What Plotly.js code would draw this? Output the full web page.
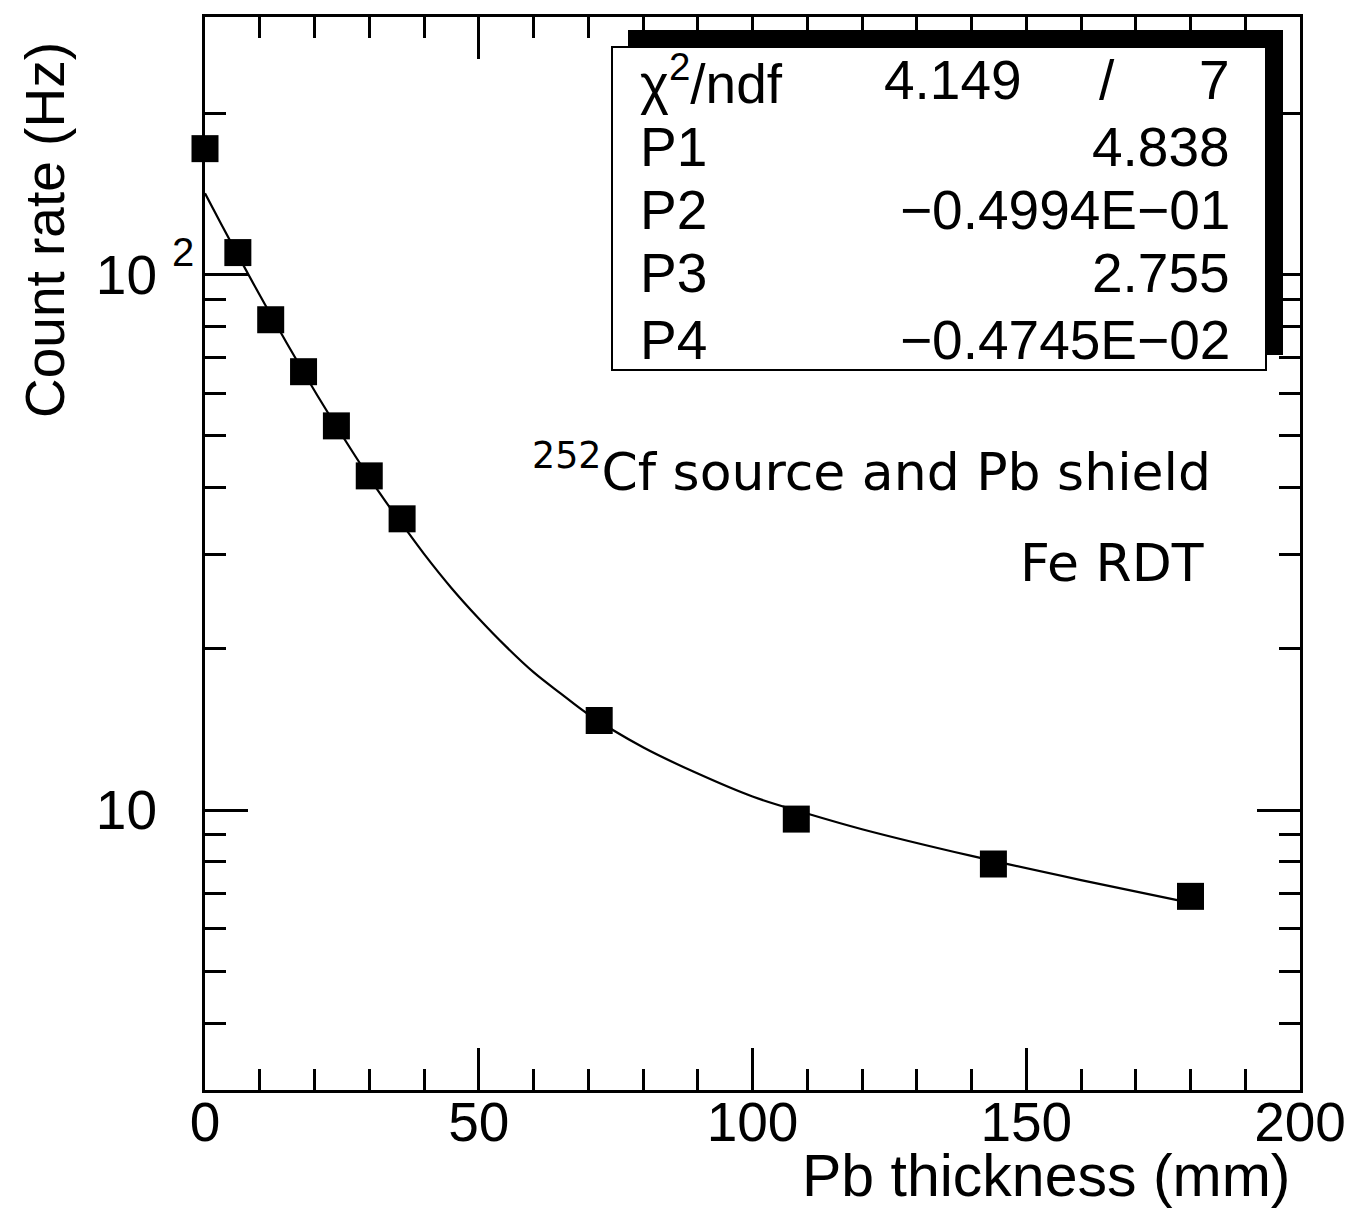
<!DOCTYPE html>
<html>
<head>
<meta charset="utf-8">
<script src="https://cdn.plot.ly/plotly-3.0.1.min.js"></script>
<style>html,body{margin:0;padding:0;background:#fff;}#chart{width:1356px;height:1214px;}</style>
</head>
<body>
<div id="chart"></div>
<script>
// Measured points (Pb thickness in mm, count rate in Hz)
const thickness = [0, 6, 12, 18, 24, 30, 36, 72, 108, 144, 180];
const countRate = [172, 110, 82.4, 65.9, 52.2, 42.1, 35.0, 14.7, 9.62, 7.93, 6.90];

// Fitted curve
const fitX = [0, 3, 6, 9, 12, 15, 18, 21, 24, 27, 30, 33, 36, 40, 45, 50, 55, 60, 65, 70, 80, 90, 100, 110, 120, 140, 160, 180];
const fitY = [141.9, 124.1, 108.8, 95.6, 84.2, 74.3, 65.8, 58.4, 52.1, 46.6, 41.8, 37.7, 34.2, 30.1, 26.0, 22.8, 20.2, 18.1, 16.5, 15.1, 13.1, 11.7, 10.6, 9.85, 9.21, 8.21, 7.40, 6.71];

// Axis ticks (the exponent of 10^2 is drawn as a separate raised "2")
const yMajorVals = [10, 100];
const yMajorText = ['10', '10'];
const yExponent = '2';
const yMinorVals = [4, 5, 6, 7, 8, 9, 20, 30, 40, 50, 60, 70, 80, 90, 200];

// Stats box text
const statLabels = ['χ<sup>2</sup>/ndf', 'P1', 'P2', 'P3', 'P4'];
const statValues = ['', '4.838', '\u22120.4994E\u221201', '2.755', '\u22120.4745E\u221202'];
const chi2 = '4.149';
const ndf = '7';
const noteLines = ['<sup>252</sup>Cf source and Pb shield', 'Fe RDT'];

const W = 1356, H = 1214, L = 205, R = 56, T = 17, B = 124;
const PW = W - L - R, PH = H - T - B;
const px = x => (x - L) / PW;
const py = y => 1 - (y - T) / PH;

const sans = '"Liberation Sans", Arial, Helvetica, sans-serif';
const wide = '"DejaVu Sans", "Liberation Sans", sans-serif';

const traces = [
  {x: fitX, y: fitY, mode: 'lines', line: {color: '#000', width: 2.2, shape: 'spline'}, hoverinfo: 'skip', showlegend: false},
  {x: thickness, y: countRate, mode: 'markers', marker: {symbol: 'square', size: 27, color: '#000'}, cliponaxis: false, showlegend: false}
];

const rowY = [80, 147, 210, 273, 340];
const boxFont = {family: sans, size: 55, color: '#000'};
const annotations = [];
statLabels.forEach((t, i) => {
  annotations.push({xref: 'paper', yref: 'paper', x: px(638), y: py(rowY[i]), xanchor: 'left', yanchor: 'middle', text: t, showarrow: false, font: boxFont});
  if (statValues[i]) annotations.push({xref: 'paper', yref: 'paper', x: px(1232), y: py(rowY[i]), xanchor: 'right', yanchor: 'middle', text: statValues[i], showarrow: false, font: boxFont});
});
annotations.push({xref: 'paper', yref: 'paper', x: px(1024), y: py(rowY[0]), xanchor: 'right', yanchor: 'middle', text: chi2, showarrow: false, font: boxFont});
annotations.push({xref: 'paper', yref: 'paper', x: px(1107), y: py(rowY[0]), xanchor: 'center', yanchor: 'middle', text: '/', showarrow: false, font: boxFont});
annotations.push({xref: 'paper', yref: 'paper', x: px(1232), y: py(rowY[0]), xanchor: 'right', yanchor: 'middle', text: ndf, showarrow: false, font: boxFont});
annotations.push({xref: 'paper', yref: 'paper', x: px(1213), y: py(468), xanchor: 'right', yanchor: 'middle', text: noteLines[0], showarrow: false, font: {family: wide, size: 52, color: '#000'}});
annotations.push({xref: 'paper', yref: 'paper', x: px(1206), y: py(563), xanchor: 'right', yanchor: 'middle', text: noteLines[1], showarrow: false, font: {family: wide, size: 52, color: '#000'}});
annotations.push({xref: 'paper', yref: 'paper', x: px(1292), y: py(1176), xanchor: 'right', yanchor: 'middle', text: 'Pb thickness (mm)', showarrow: false, font: {family: sans, size: 59, color: '#000'}});
annotations.push({xref: 'paper', yref: 'paper', x: px(45), y: py(230), xanchor: 'center', yanchor: 'middle', textangle: -90, text: 'Count rate (Hz)', showarrow: false, font: {family: sans, size: 55, color: '#000'}});
annotations.push({xref: 'paper', yref: 'paper', x: px(183), y: py(252), xanchor: 'center', yanchor: 'middle', text: yExponent, showarrow: false, font: {family: sans, size: 40, color: '#000'}});

const layout = {
  width: W, height: H,
  margin: {l: L, r: R, t: T, b: B},
  paper_bgcolor: '#fff', plot_bgcolor: '#fff',
  showlegend: false,
  xaxis: {
    range: [0, 200], dtick: 50, tick0: 0,
    ticks: 'inside', ticklen: 42, tickwidth: 3, tickcolor: '#000',
    minor: {dtick: 10, tick0: 0, ticks: 'inside', ticklen: 21, tickwidth: 3, tickcolor: '#000'},
    showline: true, linewidth: 3, linecolor: '#000', mirror: 'ticks',
    showgrid: false, zeroline: false,
    tickfont: {family: sans, size: 55, color: '#000'},
    ticklabelstandoff: -18
  },
  yaxis: {
    type: 'log', range: [Math.log10(3), Math.log10(303)],
    tickmode: 'array', tickvals: yMajorVals, ticktext: yMajorText,
    ticks: 'inside', ticklen: 43, tickwidth: 3, tickcolor: '#000',
    minor: {tickmode: 'array', tickvals: yMinorVals, ticks: 'inside', ticklen: 21, tickwidth: 3, tickcolor: '#000'},
    showline: true, linewidth: 3, linecolor: '#000', mirror: 'ticks',
    showgrid: false, zeroline: false,
    tickfont: {family: sans, size: 55, color: '#000'},
    ticklabelstandoff: 34
  },
  shapes: [
    {type: 'rect', xref: 'paper', yref: 'paper', x0: px(628), x1: px(1283), y0: py(355), y1: py(30), fillcolor: '#000', line: {width: 0}, layer: 'above'},
    {type: 'rect', xref: 'paper', yref: 'paper', x0: px(612), x1: px(1266), y0: py(370), y1: py(47), fillcolor: '#fff', line: {color: '#000', width: 2}, layer: 'above'}
  ],
  annotations: annotations
};

Plotly.newPlot('chart', traces, layout, {displayModeBar: false, staticPlot: true});
</script>
</body>
</html>
